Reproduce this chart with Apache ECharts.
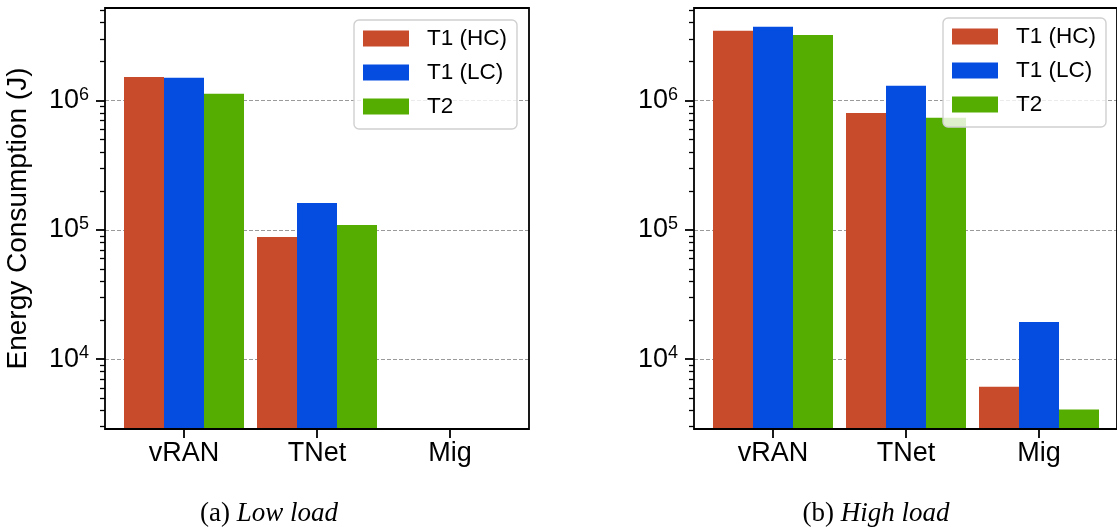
<!DOCTYPE html>
<html><head><meta charset="utf-8">
<script src="https://cdn.jsdelivr.net/npm/echarts@6/dist/echarts.min.js"></script>
<style>html,body{margin:0;padding:0;background:#fff}#c{width:1117px;height:532px}</style>
</head><body><div id="c"></div>
<script>
// ---- data ----
const categories = ['vRAN', 'TNet', 'Mig'];
const seriesNames = ['T1 (HC)', 'T1 (LC)', 'T2'];
const lowHC = [1.52e6, 8.8e4, null];
const lowLC = [1.50e6, 1.61e5, null];
const lowT2 = [1.13e6, 1.09e5, null];
const highHC = [3.46e6, 8.03e5, 6.1e3];
const highLC = [3.72e6, 1.30e6, 1.94e4];
const highT2 = [3.22e6, 7.35e5, 4.07e3];
const majorTicks = [1e4, 1e5, 1e6];
const minorTicks = [3e3, 4e3, 5e3, 6e3, 7e3, 8e3, 9e3,
  2e4, 3e4, 4e4, 5e4, 6e4, 7e4, 8e4, 9e4,
  2e5, 3e5, 4e5, 5e5, 6e5, 7e5, 8e5, 9e5,
  2e6, 3e6, 4e6, 5e6];
const yMin = 2880, yMax = 5.2e6;
const yName = 'Energy Consumption (J)';
const captionPrefix = ['(a) ', '(b) '];
const captionTitle = ['Low load', 'High load'];

// ---- style ----
const colors = ['#c84b2c', '#054de1', '#54ad00'];
const SANS = 'Liberation Sans';
const SERIF = 'Liberation Serif';
const panels = [
  { frameLeft: 105, barLeft: 117.5, legendLeft: 354, legendTop: 20, capX: 269, data: [lowHC, lowLC, lowT2], name: yName },
  { frameLeft: 694, barLeft: 706.5, legendLeft: 943, legendTop: 18, capX: 876, data: [highHC, highLC, highT2], name: '' }
];
const GTOP = 8, GH = 421, FW = 424, BW = 399;

const grid = [], xAxis = [], yAxis = [], series = [], legend = [], graphic = [];
panels.forEach((p, i) => {
  const gFrame = grid.length;
  grid.push({ left: p.frameLeft, top: GTOP, width: FW, height: GH, show: true,
    borderColor: '#000', borderWidth: 1.8, backgroundColor: 'transparent', z: 10 });
  const gBar = grid.length;
  grid.push({ left: p.barLeft, top: GTOP, width: BW, height: GH, show: false });

  xAxis.push({ type: 'value', gridIndex: gFrame, min: 0, max: 1, show: false });
  const xBar = xAxis.length;
  xAxis.push({ type: 'category', gridIndex: gBar, data: categories,
    axisLine: { show: false },
    axisTick: { show: true, alignWithLabel: true, length: 9, lineStyle: { color: '#000', width: 1.8 } },
    axisLabel: { fontSize: 27, fontFamily: SANS, color: '#000', margin: 11 },
    splitLine: { show: false } });

  yAxis.push({ type: 'log', gridIndex: gFrame, min: yMin, max: yMax, position: 'left',
    name: p.name, nameLocation: 'middle', nameGap: 73,
    nameTextStyle: { fontSize: 28, fontFamily: SANS, color: '#000' },
    axisLine: { show: false },
    axisTick: { show: true, customValues: majorTicks, length: 9, lineStyle: { color: '#000', width: 1.8 } },
    axisLabel: { customValues: majorTicks, margin: 16, color: '#000',
      formatter: v => '{b|10}{s|' + Math.round(Math.log10(v)) + '}',
      rich: {
        b: { fontSize: 27, fontFamily: SANS, color: '#000', lineHeight: 30, verticalAlign: 'middle' },
        s: { fontSize: 18, fontFamily: SANS, color: '#000', lineHeight: 16, verticalAlign: 'top' }
      } },
    splitLine: { show: true, lineStyle: { color: '#9a9a9a', width: 1.1, type: [4, 2] } },
    minorTick: { show: false }, minorSplitLine: { show: false } });
  yAxis.push({ type: 'log', gridIndex: gFrame, min: yMin, max: yMax, position: 'left', offset: 0,
    axisLine: { show: false },
    axisTick: { show: true, customValues: minorTicks, length: 5, lineStyle: { color: '#000', width: 1.3 } },
    axisLabel: { show: false }, splitLine: { show: false } });
  const yBar = yAxis.length;
  yAxis.push({ type: 'log', gridIndex: gBar, min: yMin, max: yMax, show: false, splitLine: { show: false } });

  seriesNames.forEach((n, k) => {
    series.push({ type: 'bar', name: n, xAxisIndex: xBar, yAxisIndex: yBar,
      data: p.data[k], barWidth: 40, barGap: '0%', itemStyle: { color: colors[k] },
      emphasis: { disabled: true } });
  });

  legend.push({ data: seriesNames, orient: 'vertical', left: p.legendLeft, top: p.legendTop,
    icon: 'rect', itemWidth: 46, itemHeight: 16, itemGap: 11,
    padding: [7, 10, 11, 9],
    backgroundColor: 'rgba(255,255,255,0.8)', borderColor: '#d0d0d0', borderWidth: 1.4, borderRadius: 5,
    textStyle: { fontSize: 22.5, fontFamily: SANS, color: '#000', lineHeight: 22, padding: [0, 0, 0, 13] } });

  graphic.push({ type: 'text', x: p.capX, y: 514, z: 100,
    style: { text: '{r|' + captionPrefix[i] + '}{i|' + captionTitle[i] + '}', align: 'center', verticalAlign: 'middle',
      rich: {
        r: { fontFamily: SERIF, fontSize: 27, fill: '#000', color: '#000' },
        i: { fontFamily: SERIF, fontSize: 27, fontStyle: 'italic', fill: '#000', color: '#000' }
      } } });
});

const chart = echarts.init(document.getElementById('c'), null, { renderer: 'canvas' });
chart.setOption({ animation: false, backgroundColor: '#fff', color: colors,
  grid, xAxis, yAxis, series, legend, graphic });
</script></body></html>
